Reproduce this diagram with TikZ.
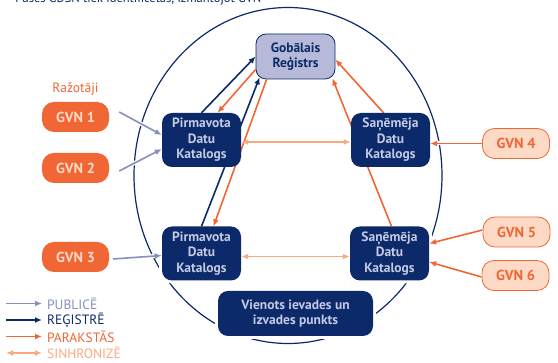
\documentclass[tikz,border=0pt]{standalone}
\usepackage{fontspec}
\setmainfont{PT Sans}
\usepackage{xcolor}
\usepackage{tikz}
\usetikzlibrary{positioning}
\usetikzlibrary{arrows.meta}
\usetikzlibrary{backgrounds}

\definecolor{gsnavy}{RGB}{12,42,105}
\definecolor{gspale}{RGB}{196,201,228}
\definecolor{gsreg}{RGB}{182,186,216}
\definecolor{gsorange}{RGB}{240,102,52}
\definecolor{gspeach}{RGB}{250,170,128}
\definecolor{gslight}{RGB}{253,218,198}
\definecolor{gspub}{RGB}{135,143,190}

\pgfdeclarelayer{front}
\pgfsetlayers{background,main,front}

\begin{document}
\begin{tikzpicture}[
  x=1pt, y=-1pt,
  font=\bfseries\fontsize{13.5}{15.5}\selectfont,
  >={Latex[length=7pt,width=6pt]}
]
\tikzset{
    catnode/.style = {rectangle, rounded corners=10pt, fill=gsnavy, text=gspale, align=center, minimum width=79pt, minimum height=54pt, inner sep=0pt},
    regnode/.style = {catnode, draw=gsnavy, line width=0.8pt, fill=gsreg, text=gsnavy, minimum height=45pt},
    halo/.style = {preaction={draw=white, line width=6pt}},
    gvnsrc/.style = {rectangle, rounded corners=12pt, fill=gsorange, text=gslight, minimum width=67pt, minimum height=30pt, inner sep=0pt, font=\bfseries\fontsize{14.5}{16}\selectfont},
    gvnrcv/.style = {gvnsrc, draw=gsorange, line width=0.8pt, fill=gslight, text=gsorange},
    legendtext/.style = {anchor=west, inner sep=2pt, font=\fontsize{13.5}{15}\selectfont},
    arrowhalo/.style = {preaction={draw=white, line width=4pt, -, shorten >=6pt}},
    pubarrow/.style = {->, draw=gspub, line width=1.6pt},
    regarrow/.style = {->, draw=gsnavy, line width=1.6pt},
    subarrow/.style = {->, draw=gsorange, line width=1.6pt},
    syncarrow/.style = {<->, draw=gspeach, line width=1.7pt}
}
\useasboundingbox (0,0) rectangle (558,363);

% footnote at the top edge
\node[anchor=base west, inner sep=0pt, text=gsnavy, font=\fontsize{12.5}{14}\selectfont] (note) at (10,3) {\textsuperscript{2}Puses GDSN tiek identificētas, izmantojot GVN};

% network
\begin{scope}[on background layer]
  \draw[gsnavy, line width=1.2pt] (288,175.5) ellipse [x radius=154pt, y radius=168pt];
\end{scope}

\node[regnode] (reg) at (295.5,56.5) {Gobālais\\Reģistrs};
\begin{pgfonlayer}{front}
  \node[catnode] (pdk1) at (201.5,140) {Pirmavota\\Datu\\Katalogs};
  \node[catnode] (sdk1) at (390.5,140) {Saņēmēja\\Datu\\Katalogs};
\end{pgfonlayer}
\node[catnode, halo] (pdk2) at (201.5,253.5) {Pirmavota\\Datu\\Katalogs};
\node[catnode, halo] (sdk2) at (389.5,253.5) {Saņēmēja\\Datu\\Katalogs};
\node[catnode, halo, minimum width=155pt, minimum height=45pt] (sip) at (295.5,313.5) {Vienots ievades un\\izvades punkts};

% parties
\node[gvnsrc] (gvn1) at (75.5,117) {GVN 1};
\node[gvnsrc] (gvn2) at (75.5,168) {GVN 2};
\node[gvnsrc] (gvn3) at (75.5,257) {GVN 3};
\node[gvnrcv] (gvn4) at (516,143.5) {GVN 4};
\node[gvnrcv] (gvn5) at (516.5,232) {GVN 5};
\node[gvnrcv] (gvn6) at (515.5,275.5) {GVN 6};
\node[above=3pt of gvn1, text=gsorange, font=\fontsize{13.5}{15}\selectfont] (mfr) {Ražotāji};

% publish
\draw[pubarrow, arrowhalo] ([xshift=10pt,yshift=5pt]gvn1.east) -- ([yshift=5pt]pdk1.west);
\draw[pubarrow, arrowhalo] ([xshift=10pt,yshift=-3pt]gvn2.east) -- ([yshift=-9pt]pdk1.west);
\draw[pubarrow, arrowhalo] ([xshift=4pt,yshift=-2pt]gvn3.east) -- ([yshift=-2pt]pdk2.west);

% register
\draw[regarrow] (pdk1.north) -- (reg.west);
\draw[regarrow] (pdk2.north) -- ([xshift=4pt,yshift=2pt]reg.south west);

% subscribe
\draw[subarrow] ([yshift=-13pt]reg.west) -- ([xshift=16pt]pdk1.north);
\draw[subarrow] ([xshift=11pt]reg.south west) -- ([xshift=12pt]pdk2.north);
\draw[subarrow] ([xshift=-7pt]sdk1.north) -- ([yshift=-3pt]reg.east);
\draw[subarrow] ([xshift=2pt]sdk2.north) -- ([xshift=-3pt,yshift=1pt]reg.south east);
\draw[subarrow, arrowhalo] (gvn4.west) -- (gvn4.west -| sdk1.east);
\draw[subarrow, arrowhalo] ([yshift=2pt]gvn5.west) -- ([yshift=10pt]sdk2.east);
\draw[subarrow, arrowhalo] ([yshift=-1.5pt]gvn6.west) -- ([yshift=-8.5pt]sdk2.east);

% synchronise
\draw[syncarrow] ([yshift=-2pt]pdk1.east) -- ([yshift=-2pt]sdk1.west);
\draw[syncarrow] ([yshift=-3pt]pdk2.east) -- ([yshift=-3pt]sdk2.west);

% legend
\node[legendtext, text=gspub] (lgpub) at (45,303.5) {PUBLICĒ};
\node[legendtext, text=gsnavy] (lgreg) at (45,320) {REĢISTRĒ};
\node[legendtext, text=gsorange] (lgsub) at (45,336.5) {PARAKSTĀS};
\node[legendtext, text=gspeach] (lgsync) at (45,353) {SINHRONIZĒ};
\draw[pubarrow] ([xshift=-39pt]lgpub.west) -- ([xshift=-3pt]lgpub.west);
\draw[regarrow] ([xshift=-39pt]lgreg.west) -- ([xshift=-3pt]lgreg.west);
\draw[subarrow] ([xshift=-39pt]lgsub.west) -- ([xshift=-3pt]lgsub.west);
\draw[syncarrow] ([xshift=-39pt]lgsync.west) -- ([xshift=-3pt]lgsync.west);
\end{tikzpicture}
\end{document}
